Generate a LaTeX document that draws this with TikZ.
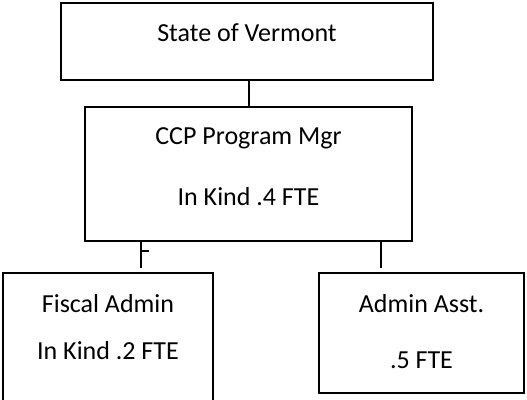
\documentclass[tikz,border=0pt]{standalone}
\usepackage{fontspec}
\setmainfont{Carlito}
\begin{document}
\begin{tikzpicture}[x=1pt,y=-1pt,
  box/.style={draw=black,line width=1.3pt,fill=none,inner sep=0pt},
  lbl/.style={font=\fontsize{26}{30}\selectfont,inner sep=0pt,anchor=center},
  conn/.style={draw=black,line width=1.1pt}]
\useasboundingbox (0,0) rectangle (527,399);
% boxes
\node[box,minimum width=372pt,minimum height=77pt] (top) at (247,41.5) {};
\node[box,minimum width=327pt,minimum height=134pt] (mid) at (248.5,174) {};
\node[box,minimum width=210pt,minimum height=134pt] (fis) at (108,340) {};
\node[box,minimum width=205pt,minimum height=120pt] (adm) at (421.5,333) {};
% texts
\node[lbl] (t1) at (247,33) {State of Vermont};
\node[lbl] (t2) at (248.5,138) {CCP Program Mgr};
\node[lbl] (t3) at (248.5,197) {In Kind .4 FTE};
\node[lbl] (t4) at (108,304) {Fiscal Admin};
\node[lbl] (t5) at (108,351) {In Kind .2 FTE};
\node[lbl] (t6) at (421.5,304) {Admin Asst.};
\node[lbl] (t7) at (421.5,360) {.5 FTE};
% connectors
\coordinate (c1) at (141,268);
\coordinate (c2) at (381,268);
\coordinate (tk) at (149,251);
\draw[conn] (top.south -| 249,0) -- (mid.north -| 249,0);
\draw[conn] (mid.south -| c1) -- (c1);
\draw[conn] (tk -| c1) -- (tk);
\draw[conn] (mid.south -| c2) -- (c2);
\end{tikzpicture}
\end{document}
